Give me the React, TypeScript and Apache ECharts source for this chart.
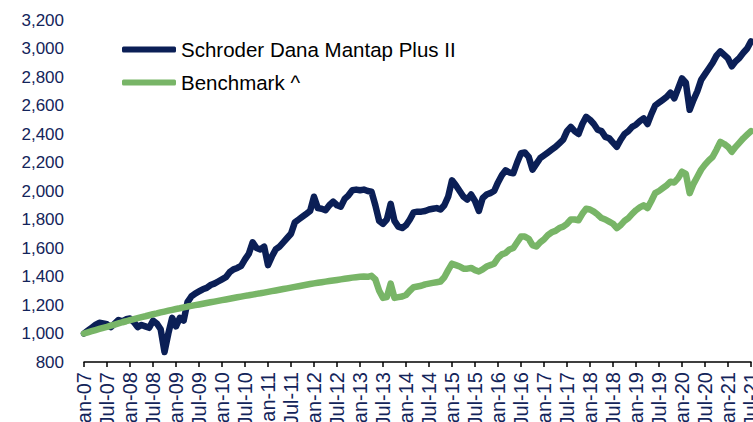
import React, { useEffect, useRef } from "react";
import * as echarts from "echarts";

// Month index 0 = Jan-07, one value per month up to Jul-21 (index 174)
const fundName = "Schroder Dana Mantap Plus II";
const benchName = "Benchmark ^";

const fundValues = [
  1000, 1020, 1040, 1060, 1075, 1070, 1065, 1045, 1070, 1095, 1085, 1100,
  1105, 1080, 1045, 1060, 1050, 1040, 1090, 1070, 1030, 870, 1000, 1110,
  1050, 1110, 1090, 1220, 1260, 1280, 1295, 1310, 1320, 1340, 1350, 1365,
  1380, 1395, 1430, 1450, 1460, 1475, 1520, 1560, 1640, 1600, 1590, 1610,
  1480, 1540, 1590, 1610, 1640, 1670, 1700, 1780, 1800, 1820, 1840, 1860,
  1960, 1880, 1875, 1865, 1900, 1925, 1900, 1890, 1945, 1970, 2005, 2010,
  2005, 2010, 2000, 1995, 1900, 1790, 1770, 1800, 1910, 1790, 1750, 1740,
  1760, 1800, 1850, 1855, 1855, 1860, 1870, 1875, 1880, 1870, 1900, 1960,
  2075, 2040, 2000, 1960, 1940, 1975, 1930, 1860, 1950, 1975, 1985, 2000,
  2060, 2110, 2145, 2130, 2125, 2200, 2265, 2270, 2240, 2150, 2190, 2230,
  2250, 2270, 2290, 2310, 2335, 2360, 2420, 2450, 2420, 2400, 2470, 2520,
  2500, 2470, 2430, 2420, 2380, 2370, 2340, 2310, 2360, 2400, 2420, 2450,
  2465, 2490, 2510, 2470, 2540, 2600, 2620, 2640, 2660, 2690, 2650, 2720,
  2790, 2760, 2570, 2640, 2700, 2780, 2820, 2860, 2900, 2950, 2980, 2955,
  2930, 2875, 2910, 2935, 2970, 3000, 3050,
];

const benchValues = [
  1000, 1008, 1016, 1024, 1032, 1040, 1047, 1055, 1063, 1071, 1079, 1086,
  1094, 1101, 1108, 1115, 1121, 1128, 1135, 1141, 1148, 1154, 1160, 1166,
  1172, 1177, 1183, 1189, 1194, 1199, 1204, 1209, 1214, 1219, 1224, 1229,
  1234, 1239, 1244, 1249, 1254, 1259, 1264, 1268, 1273, 1278, 1282, 1287,
  1292, 1297, 1302, 1307, 1312, 1317, 1322, 1327, 1332, 1337, 1342, 1347,
  1352, 1356, 1360, 1364, 1368, 1372, 1376, 1380, 1384, 1388, 1392, 1395,
  1398, 1400, 1398, 1405, 1380, 1300, 1250, 1255, 1350, 1250, 1255, 1260,
  1270, 1300, 1325, 1330, 1335, 1345, 1350, 1355, 1360, 1365, 1395, 1445,
  1490, 1480, 1470, 1455, 1455, 1460, 1445, 1435, 1450, 1470, 1480, 1490,
  1530, 1555, 1565, 1590, 1600, 1640, 1680, 1680, 1665, 1620, 1610, 1640,
  1660, 1690, 1710, 1720, 1740, 1750, 1770, 1800, 1800, 1795, 1840, 1875,
  1870, 1855, 1835, 1810, 1800, 1785, 1770, 1740, 1760, 1790, 1810, 1840,
  1865, 1885, 1900, 1880, 1930, 1985, 2000, 2020, 2040, 2065, 2060, 2090,
  2135, 2120, 1985, 2050, 2100, 2150, 2185, 2215, 2240, 2290, 2345, 2330,
  2310, 2275, 2310, 2340, 2370, 2395, 2420,
];

const monthNames = ["Jan", "Jul"];
const startYear = 2007;

const navy = "#0b1f56";
const green = "#78b567";
const labelColor = "#13245a";

function tickLabel(v: number): string {
  const m = Math.round(v);
  if (m % 6 !== 0) return "";
  const year = startYear + Math.floor(m / 12);
  const half = (m % 12) / 6;
  return monthNames[half] + "-" + String(year % 100).padStart(2, "0");
}

export default function App() {
  const ref = useRef<HTMLDivElement>(null);
  useEffect(() => {
    if (!ref.current) return;
    const chart = echarts.init(ref.current, undefined, { renderer: "svg" });
    chart.setOption({
      animation: false,
      backgroundColor: "#ffffff",
      textStyle: { fontFamily: "Liberation Sans, Arial, sans-serif" },
      grid: { left: 84, right: 2, top: 20, bottom: 60, containLabel: false, outerBoundsMode: "none" },
      legend: {
        orient: "vertical",
        left: 117,
        top: 34,
        itemWidth: 54,
        itemHeight: 6,
        itemGap: 12,
        icon: "roundRect",
        data: [fundName, benchName],
        textStyle: { fontSize: 20.5, color: "#000000", fontFamily: "Liberation Sans, Arial, sans-serif" },
      },
      xAxis: {
        type: "value",
        min: 0,
        max: 174,
        interval: 6,
        axisLine: { show: true, lineStyle: { color: "#000000", width: 1.5 } },
        axisTick: { show: true, length: 5, lineStyle: { color: "#000000", width: 1.5 } },
        splitLine: { show: false },
        axisLabel: {
          rotate: 90,
          margin: 10,
          fontSize: 20,
          color: labelColor,
          formatter: (v: number) => tickLabel(v),
          showMaxLabel: true,
          showMinLabel: true,
          hideOverlap: false,
        },
      },
      yAxis: {
        type: "value",
        min: 800,
        max: 3200,
        interval: 200,
        axisLine: { show: false },
        axisTick: { show: false },
        splitLine: { show: false },
        axisLabel: {
          margin: 20,
          fontSize: 17,
          color: labelColor,
          formatter: (v: number) => v.toLocaleString("en-US"),
        },
      },
      series: [
        {
          name: fundName,
          type: "line",
          data: fundValues.map((v, i) => [i, v]),
          symbol: "none",
          color: navy,
          lineStyle: { color: navy, width: 6.5, cap: "round", join: "round" },
        },
        {
          name: benchName,
          type: "line",
          data: benchValues.map((v, i) => [i, v]),
          symbol: "none",
          color: green,
          lineStyle: { color: green, width: 6.5, cap: "round", join: "round" },
        },
      ],
    });
    return () => chart.dispose();
  }, []);
  return <div ref={ref} style={{ width: 753, height: 422, position: "absolute", left: 0, top: 0, overflow: "hidden" }} />;
}
